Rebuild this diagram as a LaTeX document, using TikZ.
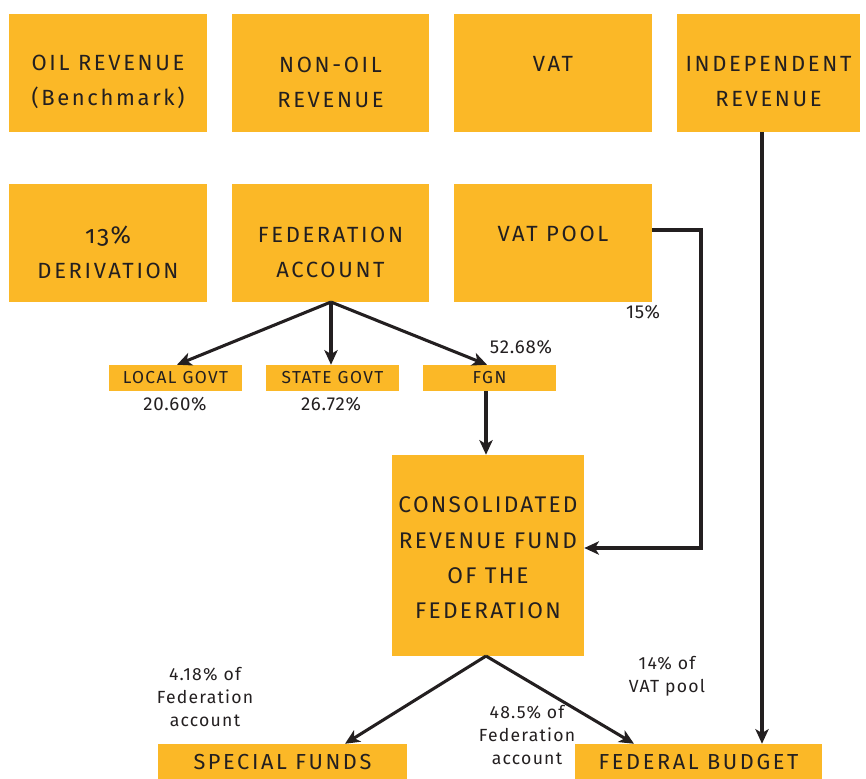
\documentclass[tikz,border=0pt]{standalone}
\usepackage{fontspec}
\setmainfont{Fira Sans}
\newfontfamily\spaced[LetterSpace=12]{Fira Sans}
\newfontfamily\wide[LetterSpace=10]{Fira Sans}
\newfontfamily\smallsp[LetterSpace=8]{Fira Sans}
\newfontfamily\lblsp[LetterSpace=7]{Fira Sans}
\newfontfamily\pctsp[LetterSpace=4]{Fira Sans}
\newfontfamily\oldnum[LetterSpace=6,Numbers=OldStyle]{Fira Sans}
\usetikzlibrary{arrows.meta}
\definecolor{boxyellow}{HTML}{FBB827}
\definecolor{ink}{HTML}{231F20}
\tikzset{
  box/.style={fill=boxyellow, inner sep=0pt},
  bigtext/.style={inner sep=0pt, align=center, text=ink, font=\spaced\fontsize{16.5}{26.3}\selectfont},
  small/.style={fill=boxyellow, inner sep=0pt, align=center, text=ink, font=\smallsp\fontsize{13}{15}\selectfont},
  low/.style={fill=boxyellow, inner sep=0pt, align=center, text=ink, font=\spaced\fontsize{16.3}{20}\selectfont},
  pct/.style={text=ink, align=center, font=\pctsp\fontsize{14}{16}\selectfont, inner sep=0pt},
  lbl/.style={text=ink, align=center, font=\lblsp\fontsize{13.2}{17.6}\selectfont, inner sep=0pt},
  flow/.style={draw=ink, line width=2.3pt, -{Stealth[length=11pt,width=10pt,inset=3pt]}}
}
\begin{document}
\begin{tikzpicture}[x=0.75pt,y=-0.75pt]
\useasboundingbox (0,0) rectangle (866,778);
% top row
\node[box, minimum width=198*0.75pt, minimum height=118*0.75pt] (oil) at (108,73) {};
\node[bigtext] (oilt) at (108,82) {OIL REVENUE\\(Benchmark)};
\node[box, minimum width=197*0.75pt, minimum height=118*0.75pt] (nonoil) at (330.5,73) {};
\node[bigtext] (nonoilt) at (330.5,82) {NON-OIL\\REVENUE};
\node[box, minimum width=198*0.75pt, minimum height=118*0.75pt] (vat) at (553,73) {};
\node[bigtext] (vatt) at (553,64) {VAT};
\node[box, minimum width=183*0.75pt, minimum height=118*0.75pt] (indep) at (768.5,73) {};
\node[bigtext] (indept) at (768.5,82) {INDEPENDENT\\REVENUE};
% second row
\node[box, minimum width=198*0.75pt, minimum height=118*0.75pt] (deriv) at (108,243) {};
\node[bigtext] (derivt) at (108,252) {{\oldnum\fontsize{18.5}{26.3}\selectfont 13\%}\\DERIVATION};
\node[box, minimum width=197*0.75pt, minimum height=118*0.75pt] (fed) at (330.5,243) {};
\node[bigtext] (fedt) at (330.5,252) {FEDERATION\\ACCOUNT};
\node[box, minimum width=198*0.75pt, minimum height=118*0.75pt] (vatpool) at (553,243) {};
\node[bigtext] (vatpoolt) at (553,234) {VAT POOL};
% small boxes
\node[small, minimum width=133*0.75pt, minimum height=26*0.75pt] (lg) at (175.5,378) {LOCAL GOVT};
\node[small, minimum width=133*0.75pt, minimum height=26*0.75pt] (sg) at (332.5,378) {STATE GOVT};
\node[small, minimum width=133*0.75pt, minimum height=26*0.75pt] (fgn) at (489.5,378) {FGN};
% consolidated
\node[box, minimum width=192*0.75pt, minimum height=201*0.75pt] (crf) at (488,555.5) {};
\node[inner sep=0pt, align=center, text=ink, font=\wide\fontsize{17}{26.5}\selectfont] (crft) at (488,558) {CONSOLIDATED\\REVENUE FUND\\OF THE\\FEDERATION};
% bottom boxes
\node[low, minimum width=249*0.75pt, minimum height=36*0.75pt] (sf) at (282.5,762) {SPECIAL FUNDS};
\node[low, minimum width=247*0.75pt, minimum height=36*0.75pt] (fb) at (698.5,762) {FEDERAL BUDGET};
% labels
\node[pct] (p1) at (175,404) {20.60\%};
\node[pct] (p2) at (331,404) {26.72\%};
\node[pct] (p3) at (521,347) {52.68\%};
\node[pct] (p4) at (643,312) {15\%};
\node[lbl] (p5) at (205,697) {4.18\% of\\Federation\\account};
\node[lbl] (p6) at (527,735) {48.5\% of\\Federation\\account};
\node[lbl] (p7) at (667,676) {14\% of\\VAT pool};
% coordinates
\coordinate (fedb) at (331,302);
\coordinate (crfb) at (486,656);
\coordinate (vp1) at (701,230);
\coordinate (vp2) at (701,548);
% arrows
\draw[flow] (fedb) -- (lg.north -| 177,0);
\draw[flow] (fedb) -- (sg.north -| 331,0);
\draw[flow] (fedb) -- (fgn.north -| 487,0);
\draw[flow] (fgn.south -| 486,0) -- (crf.north -| 486,0);
\draw[flow] (vatpool.east |- vp1) -- (vp1) -- (vp2) -- (crf.east |- vp2);
\draw[flow] (indep.south -| 762,0) -- (fb.north -| 762,0);
\draw[flow] (crfb) -- (sf.north -| 345,0);
\draw[flow] (crfb) -- (fb.north -| 634,0);
\end{tikzpicture}
\end{document}
